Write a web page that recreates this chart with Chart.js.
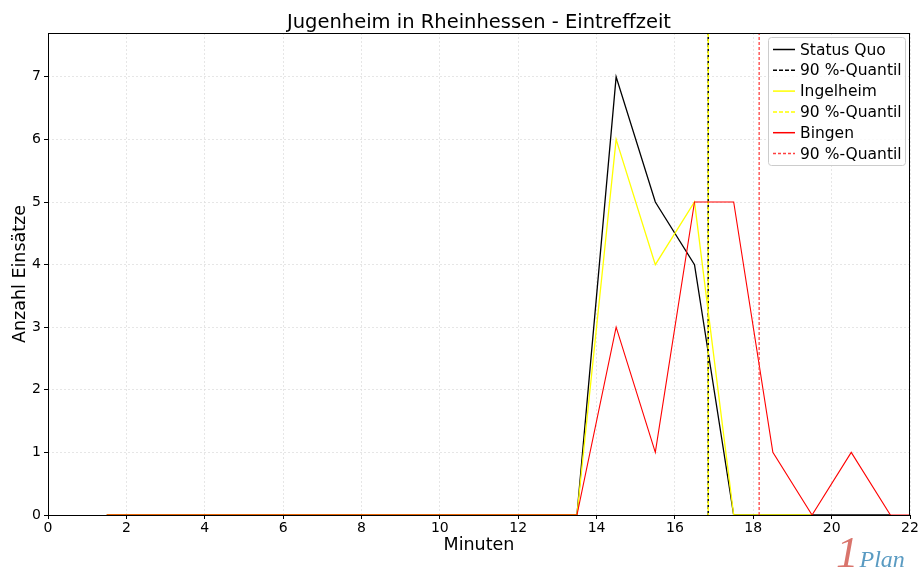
<!DOCTYPE html>
<html>
<head>
<meta charset="utf-8">
<script src="https://cdn.jsdelivr.net/npm/chart.js@4.4.1/dist/chart.umd.min.js"></script>
<style>
  html, body { margin: 0; padding: 0; background: #fff; }
  #wrap { position: relative; width: 921px; height: 583px; }
  #logo { position: absolute; left: 836px; top: 530px; font-style: italic; white-space: nowrap; line-height: 1; }
  #logo .one { color: #d9746c; font-size: 45px; font-family: "Liberation Serif", serif; font-style: italic; }
  #logo .plan { color: #5a9bc2; font-size: 24px; font-family: "Liberation Serif", serif; font-style: italic; margin-left: 1px; }
</style>
</head>
<body>
<div id="wrap">
  <canvas id="c" width="921" height="583"></canvas>
  <div id="logo"><span class="one">1</span><span class="plan">Plan</span></div>
</div>
<script>
// ---- Data ----
const chartTitle = "Jugenheim in Rheinhessen - Eintreffzeit";
const xLabel = "Minuten";
const yLabel = "Anzahl Einsätze";
const minutes = [1.5, 2.5, 3.5, 4.5, 5.5, 6.5, 7.5, 8.5, 9.5, 10.5, 11.5, 12.5, 13.5, 14.5, 15.5, 16.5, 17.5, 18.5, 19.5, 20.5, 21.5, 22.5];
const statusQuo = [0, 0, 0, 0, 0, 0, 0, 0, 0, 0, 0, 0, 0, 7, 5, 4, 0, 0, 0, 0, 0];
const ingelheim = [0, 0, 0, 0, 0, 0, 0, 0, 0, 0, 0, 0, 0, 6, 4, 5, 0, 0, 0];
const bingen    = [0, 0, 0, 0, 0, 0, 0, 0, 0, 0, 0, 0, 0, 3, 1, 5, 5, 1, 0, 1, 0, 0];
const quantileStatusQuo = 16.85;
const quantileIngelheim = 16.85;
const quantileBingen = 18.15;
const seriesNames = ["Status Quo", "90 %-Quantil", "Ingelheim", "90 %-Quantil", "Bingen", "90 %-Quantil"];
const xTicks = [0, 2, 4, 6, 8, 10, 12, 14, 16, 18, 20, 22];
const yTicks = [0, 1, 2, 3, 4, 5, 6, 7];
const xMax = 22, yMax = 7.7;

function pts(vals) { return vals.map((v, i) => ({ x: minutes[i], y: v })); }
function vline(q) { return [{ x: q, y: 0 }, { x: q, y: yMax }]; }

const FONT = "'DejaVu Sans', sans-serif";

const datasets = [
  { label: seriesNames[0], data: pts(statusQuo), borderColor: '#000000', borderWidth: 1.3, order: 6 },
  { label: seriesNames[1], data: vline(quantileStatusQuo), borderColor: '#000000', borderWidth: 1.5, borderDash: [4, 2], order: 5 },
  { label: seriesNames[2], data: pts(ingelheim), borderColor: '#ffff00', borderWidth: 1.3, order: 4 },
  { label: seriesNames[3], data: vline(quantileIngelheim), borderColor: '#ffff00', borderWidth: 1.5, borderDash: [4, 2], borderDashOffset: 2, order: 3 },
  { label: seriesNames[4], data: pts(bingen), borderColor: '#ff0000', borderWidth: 1.1, order: 2 },
  { label: seriesNames[5], data: vline(quantileBingen), borderColor: '#ff4040', borderWidth: 1.3, borderDash: [3, 2], order: 1 }
];
datasets.forEach(d => { d.pointRadius = 0; d.fill = false; d.tension = 0; d.backgroundColor = d.borderColor; });

const framePlugin = {
  id: 'frame',
  afterDatasetsDraw(chart) {
    const { ctx, chartArea: a } = chart;
    ctx.save();
    ctx.strokeStyle = '#000';
    ctx.lineWidth = 1;
    ctx.strokeRect(Math.round(a.left) + 0.5, Math.round(a.top) + 0.5, Math.round(a.right - a.left) - 1, Math.round(a.bottom - a.top));
    ctx.restore();
  },
  afterDraw(chart) {
    const ctx = chart.ctx;
    const a = chart.chartArea;
    ctx.save();
    // title centred over the plot area
    ctx.font = "19.5px " + FONT;
    ctx.fillStyle = '#000';
    ctx.textAlign = 'center';
    ctx.textBaseline = 'alphabetic';
    ctx.fillText(chartTitle, (a.left + a.right) / 2, 27.7);
    // legend box
    const bx = 768.5, by = 37.5, bw = 137, bh = 128, r = 3;
    ctx.beginPath();
    ctx.moveTo(bx + r, by);
    ctx.arcTo(bx + bw, by, bx + bw, by + bh, r);
    ctx.arcTo(bx + bw, by + bh, bx, by + bh, r);
    ctx.arcTo(bx, by + bh, bx, by, r);
    ctx.arcTo(bx, by, bx + bw, by, r);
    ctx.closePath();
    ctx.fillStyle = 'rgba(255,255,255,0.8)';
    ctx.fill();
    ctx.strokeStyle = '#cccccc';
    ctx.lineWidth = 1;
    ctx.stroke();
    ctx.font = "15.5px " + FONT;
    ctx.textBaseline = 'middle';
    ctx.textAlign = 'left';
    chart.data.datasets.forEach((d, i) => {
      const y = 49.5 + i * 20.8;
      ctx.beginPath();
      ctx.setLineDash(d.borderDash || []);
      ctx.strokeStyle = d.borderColor;
      ctx.lineWidth = 1.5;
      ctx.moveTo(773, y);
      ctx.lineTo(795, y);
      ctx.stroke();
      ctx.setLineDash([]);
      ctx.fillStyle = '#000';
      ctx.fillText(d.label, 800, y + 1);
    });
    ctx.restore();
  }
};

new Chart(document.getElementById('c'), {
  type: 'line',
  data: { datasets },
  plugins: [framePlugin],
  options: {
    responsive: false,
    animation: false,
    layout: { padding: { left: 0, right: 11, top: 33, bottom: 0 } },
    plugins: {
      legend: { display: false },
      tooltip: { enabled: false },
      title: { display: false }
    },
    scales: {
      x: {
        type: 'linear', min: 0, max: xMax,
        afterBuildTicks: s => { s.ticks = xTicks.map(v => ({ value: v })); },
        afterFit: s => { s.height = 68; },
        ticks: { color: '#000', font: { family: FONT, size: 14 }, padding: 1, maxRotation: 0 },
        grid: { color: '#e0e0e0', lineWidth: 0.8, tickLength: 4, tickColor: '#000', tickWidth: 1 },
        border: { display: false, dash: [2, 2] },
        title: { display: true, text: xLabel, color: '#000', font: { family: FONT, size: 17.5 }, padding: { top: 0, bottom: 27 } }
      },
      y: {
        type: 'linear', min: 0, max: yMax,
        afterBuildTicks: s => { s.ticks = yTicks.map(v => ({ value: v })); },
        afterFit: s => { s.width = 48; },
        ticks: { color: '#000', font: { family: FONT, size: 14 }, padding: 3 },
        grid: { color: '#e0e0e0', lineWidth: 0.8, tickLength: 4, tickColor: '#000', tickWidth: 1 },
        border: { display: false, dash: [2, 2] },
        title: { display: true, text: yLabel, color: '#000', font: { family: FONT, size: 17.5 }, padding: { top: 10, bottom: 0 } }
      }
    }
  }
});
</script>
</body>
</html>
